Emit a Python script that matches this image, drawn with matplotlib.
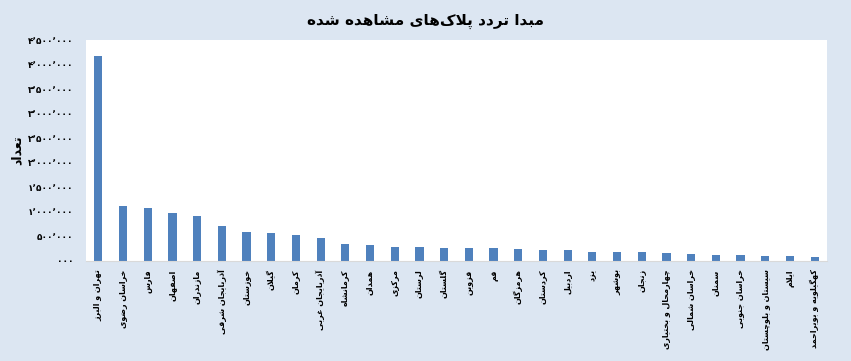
import matplotlib
matplotlib.use("Agg")
import matplotlib.pyplot as plt

# ---------------- data ----------------
title = "مبدا تردد پلاک‌های مشاهده شده"
ylabel = "تعداد"
categories = [
    "تهران و البرز", "خراسان رضوی", "فارس", "اصفهان", "مازندران",
    "آذربایجان شرقی", "خوزستان", "گیلان", "کرمان", "آذربایجان غربی",
    "کرمانشاه", "همدان", "مرکزی", "لرستان", "گلستان",
    "قزوین", "قم", "هرمزگان", "کردستان", "اردبیل",
    "یزد", "بوشهر", "زنجان", "چهارمحال و بختیاری", "خراسان شمالی",
    "سمنان", "خراسان جنوبی", "سیستان و بلوچستان", "ایلام", "کهگیلویه و بویراحمد",
]
values = [
    4174000, 1120000, 1073000, 971000, 916000,
    713000, 597000, 577000, 536000, 468000,
    346000, 320000, 279000, 279000, 270000,
    258000, 258000, 250000, 224000, 218000,
    190000, 183000, 183000, 163000, 136000,
    130000, 122000, 108000, 95000, 81000,
]
yticks = [0, 500000, 1000000, 1500000, 2000000, 2500000, 3000000, 3500000, 4000000, 4500000]
ytick_labels = ["۰۰۰", "۵۰۰٬۰۰۰", "۱٬۰۰۰٬۰۰۰", "۱٬۵۰۰٬۰۰۰", "۲٬۰۰۰٬۰۰۰",
                "۲٬۵۰۰٬۰۰۰", "۳٬۰۰۰٬۰۰۰", "۳٬۵۰۰٬۰۰۰", "۴٬۰۰۰٬۰۰۰", "۴٬۵۰۰٬۰۰۰"]

# ------------- minimal Persian shaping (presentation forms + RTL order) -------------
FORMS = {
    'ا': ('\uFE8D', '\uFE8E', None, None),
    'آ': ('\uFE81', '\uFE82', None, None),
    'ب': ('\uFE8F', '\uFE90', '\uFE91', '\uFE92'),
    'پ': ('\uFB56', '\uFB57', '\uFB58', '\uFB59'),
    'ت': ('\uFE95', '\uFE96', '\uFE97', '\uFE98'),
    'ث': ('\uFE99', '\uFE9A', '\uFE9B', '\uFE9C'),
    'ج': ('\uFE9D', '\uFE9E', '\uFE9F', '\uFEA0'),
    'چ': ('\uFB7A', '\uFB7B', '\uFB7C', '\uFB7D'),
    'ح': ('\uFEA1', '\uFEA2', '\uFEA3', '\uFEA4'),
    'خ': ('\uFEA5', '\uFEA6', '\uFEA7', '\uFEA8'),
    'د': ('\uFEA9', '\uFEAA', None, None),
    'ذ': ('\uFEAB', '\uFEAC', None, None),
    'ر': ('\uFEAD', '\uFEAE', None, None),
    'ز': ('\uFEAF', '\uFEB0', None, None),
    'ژ': ('\uFB8A', '\uFB8B', None, None),
    'س': ('\uFEB1', '\uFEB2', '\uFEB3', '\uFEB4'),
    'ش': ('\uFEB5', '\uFEB6', '\uFEB7', '\uFEB8'),
    'ص': ('\uFEB9', '\uFEBA', '\uFEBB', '\uFEBC'),
    'ض': ('\uFEBD', '\uFEBE', '\uFEBF', '\uFEC0'),
    'ط': ('\uFEC1', '\uFEC2', '\uFEC3', '\uFEC4'),
    'ظ': ('\uFEC5', '\uFEC6', '\uFEC7', '\uFEC8'),
    'ع': ('\uFEC9', '\uFECA', '\uFECB', '\uFECC'),
    'غ': ('\uFECD', '\uFECE', '\uFECF', '\uFED0'),
    'ف': ('\uFED1', '\uFED2', '\uFED3', '\uFED4'),
    'ق': ('\uFED5', '\uFED6', '\uFED7', '\uFED8'),
    'ک': ('\uFB8E', '\uFB8F', '\uFB90', '\uFB91'),
    'گ': ('\uFB92', '\uFB93', '\uFB94', '\uFB95'),
    'ل': ('\uFEDD', '\uFEDE', '\uFEDF', '\uFEE0'),
    'م': ('\uFEE1', '\uFEE2', '\uFEE3', '\uFEE4'),
    'ن': ('\uFEE5', '\uFEE6', '\uFEE7', '\uFEE8'),
    'ه': ('\uFEE9', '\uFEEA', '\uFEEB', '\uFEEC'),
    'و': ('\uFEED', '\uFEEE', None, None),
    'ی': ('\uFBFC', '\uFBFD', '\uFBFE', '\uFBFF'),
}
LAMALEF = {'ا': ('\uFEFB', '\uFEFC'), 'آ': ('\uFEF5', '\uFEF6')}


def _is_dual(tok):
    return isinstance(tok, str) and tok in FORMS and FORMS[tok][2] is not None


def _joinable(tok):
    return isinstance(tok, tuple) or (isinstance(tok, str) and tok in FORMS)


def shape(text):
    chars = list(text)
    tokens, i = [], 0
    while i < len(chars):
        c = chars[i]
        if c == 'ل' and i + 1 < len(chars) and chars[i + 1] in LAMALEF:
            tokens.append(('LA', chars[i + 1]))
            i += 2
        else:
            tokens.append(c)
            i += 1
    res = []
    for k, t in enumerate(tokens):
        prev = tokens[k - 1] if k > 0 else None
        nxt = tokens[k + 1] if k + 1 < len(tokens) else None
        pc = prev is not None and _is_dual(prev)
        if isinstance(t, tuple):
            iso, fin = LAMALEF[t[1]]
            res.append(fin if pc else iso)
            continue
        if t == '\u200c':
            continue
        if t not in FORMS:
            res.append(t)
            continue
        iso, fin, ini, med = FORMS[t]
        nc = ini is not None and nxt is not None and _joinable(nxt)
        if pc and nc:
            res.append(med)
        elif pc:
            res.append(fin)
        elif nc:
            res.append(ini)
        else:
            res.append(iso)
    return ''.join(reversed(res))


# ---------------- figure ----------------
plt.rcParams['font.family'] = ['DejaVu Sans']
BG = '#DCE6F2'
BAR = '#4F81BD'

fig = plt.figure(figsize=(8.51, 3.61), dpi=100, facecolor=BG)
ax = fig.add_axes([86 / 851, 1 - 261 / 361, (827 - 86) / 851, (261 - 40) / 361])
ax.set_facecolor('white')

x = list(range(len(categories)))
ax.bar(x, values, width=0.33, color=BAR, zorder=2)

ax.set_xlim(-0.5, len(categories) - 0.5)
ax.set_ylim(0, 4500000)
ax.set_yticks(yticks)
ax.set_yticklabels(ytick_labels, fontsize=6.5, fontweight='bold')
ax.set_xticks(x)
ax.set_xticklabels([shape(c) for c in categories], rotation=90, fontsize=5.8,
                   fontweight='bold', va='top', ha='center')
ax.tick_params(axis='both', length=0)
ax.tick_params(axis='y', pad=9)
ax.tick_params(axis='x', pad=6)

for s in ['top', 'right', 'left']:
    ax.spines[s].set_visible(False)
ax.spines['bottom'].set_color('#D9D9D9')
ax.spines['bottom'].set_linewidth(0.8)

ax.set_ylabel(shape(ylabel), fontsize=9, fontweight='bold', labelpad=3)
fig.text(0.5, 1 - 21 / 361, shape(title), ha='center', va='center',
         fontsize=11, fontweight='bold')

fig.savefig('out.png', dpi=100, facecolor=BG)
